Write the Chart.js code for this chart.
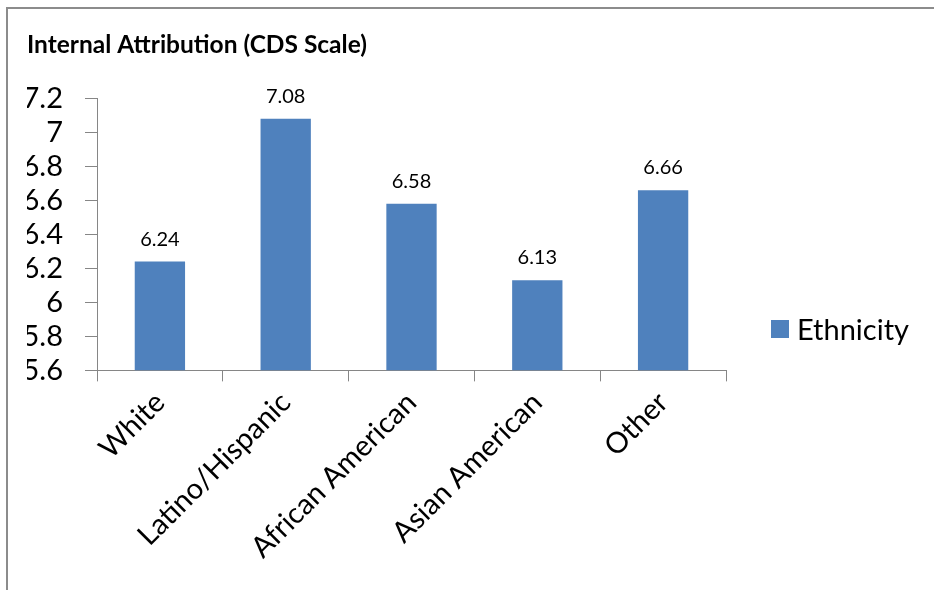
<!DOCTYPE html>
<html>
<head>
<meta charset="utf-8">
<title>Internal Attribution (CDS Scale)</title>
<script src="https://cdn.jsdelivr.net/npm/chart.js@4.4.0/dist/chart.umd.min.js"></script>
<style>
  html, body { margin: 0; padding: 0; background: #fff; }
  #wrap { position: relative; width: 934px; height: 590px; }
  #legend {
    position: absolute; left: 771px; top: 311px;
    font-family: Lato, sans-serif; font-size: 29px; color: #000;
    display: flex; align-items: center;
  }
  #legend .box { width: 18px; height: 18px; margin-right: 8px; }
</style>
</head>
<body>
<div id="wrap">
  <canvas id="attributionChart" width="934" height="590"></canvas>
  <div id="legend"></div>
</div>
<script>
// Chart data
const categories = ['White', 'Latino/Hispanic', 'African American', 'Asian American', 'Other'];
const seriesName = 'Ethnicity';
const ethnicityValues = [6.24, 7.08, 6.58, 6.13, 6.66];
const yTicks = [5.6, 5.8, 6, 6.2, 6.4, 6.6, 6.8, 7, 7.2];

const barColor = '#4F81BD';
const axisColor = '#868686';

// value above each bar
const valueLabels = {
  id: 'valueLabels',
  afterDatasetsDraw(chart) {
    const ctx = chart.ctx;
    const meta = chart.getDatasetMeta(0);
    const values = chart.data.datasets[0].data;
    ctx.save();
    ctx.font = '20px Lato, sans-serif';
    ctx.fillStyle = '#000';
    ctx.textAlign = 'center';
    ctx.textBaseline = 'alphabetic';
    meta.data.forEach((bar, i) => {
      ctx.fillText(values[i].toFixed(2), bar.x, bar.y - 16);
    });
    ctx.restore();
  }
};

// outer chart frame (left and top edges visible)
const chartFrame = {
  id: 'chartFrame',
  beforeDraw(chart) {
    const ctx = chart.ctx;
    ctx.save();
    ctx.strokeStyle = '#8c8c8c';
    ctx.lineWidth = 2;
    ctx.beginPath();
    ctx.moveTo(7, chart.height);
    ctx.lineTo(7, 8);
    ctx.lineTo(chart.width, 8);
    ctx.stroke();
    ctx.restore();
  }
};

const chart = new Chart(document.getElementById('attributionChart'), {
  type: 'bar',
  data: {
    labels: categories,
    datasets: [{
      label: seriesName,
      data: ethnicityValues,
      backgroundColor: barColor,
      borderWidth: 0,
      barPercentage: 0.4,
      categoryPercentage: 1
    }]
  },
  options: {
    responsive: false,
    animation: false,
    layout: { padding: { left: 27, right: 208, top: 0, bottom: 21 } },
    plugins: {
      legend: { display: false },
      tooltip: { enabled: false },
      title: {
        display: true,
        text: 'Internal Attribution (CDS Scale)',
        align: 'start',
        color: '#000',
        font: { family: 'Lato', size: 24.5, weight: 'bold' },
        padding: { top: 30, bottom: 39 }
      }
    },
    scales: {
      x: {
        grid: { drawOnChartArea: false, drawTicks: true, tickLength: 11, color: axisColor },
        border: { color: axisColor, width: 1 },
        ticks: {
          minRotation: 45,
          maxRotation: 45,
          autoSkip: false,
          color: '#000',
          padding: 4,
          font: { family: 'Lato', size: 29 }
        }
      },
      y: {
        min: yTicks[0],
        max: yTicks[yTicks.length - 1],
        afterBuildTicks: axis => { axis.ticks = yTicks.map(v => ({ value: v })); },
        afterFit: axis => { axis.width = 70; },
        grid: { drawOnChartArea: false, drawTicks: true, tickLength: 12, color: axisColor },
        border: { color: axisColor, width: 1 },
        ticks: {
          autoSkip: false,
          color: '#000',
          padding: 22,
          font: { family: 'Lato', size: 29 },
          callback: v => String(Math.round(v * 10) / 10)
        }
      }
    }
  },
  plugins: [chartFrame, valueLabels]
});

// Legend
const legend = document.getElementById('legend');
chart.data.datasets.forEach(ds => {
  legend.innerHTML += `<span class="box" style="background:${ds.backgroundColor}"></span><span>${ds.label}</span>`;
});
</script>
</body>
</html>
